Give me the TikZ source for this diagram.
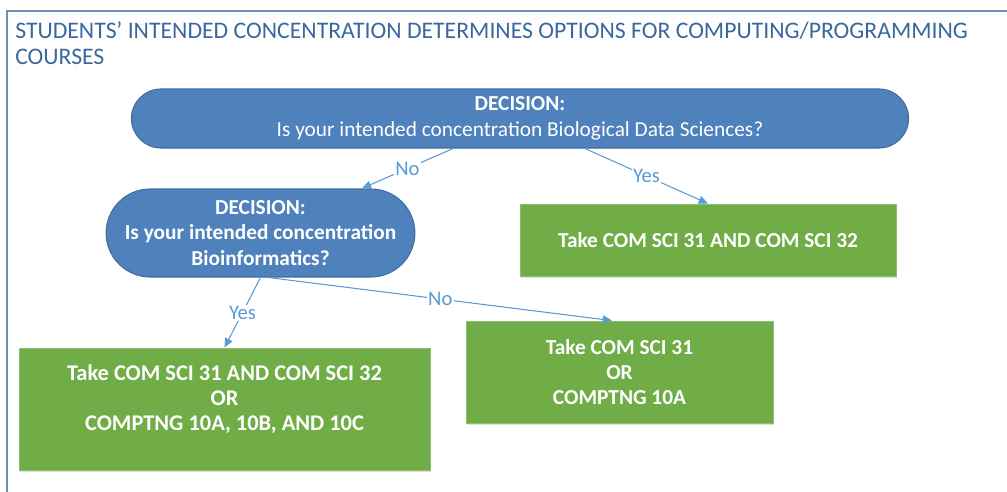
\documentclass[tikz,border=0pt]{standalone}
\usepackage{fontspec}
\setmainfont{Carlito}
\usetikzlibrary{arrows.meta,shapes.misc,shadows}

\definecolor{decfill}{RGB}{79,129,189}
\definecolor{decline}{RGB}{65,110,160}
\definecolor{resfill}{RGB}{112,173,71}
\definecolor{resline}{RGB}{140,190,110}
\definecolor{flowcol}{RGB}{91,155,213}
\definecolor{titlecol}{RGB}{57,104,158}
\definecolor{framecol}{RGB}{110,140,180}

\begin{document}
\begin{tikzpicture}[x=0.75pt,y=-0.75pt]

\tikzset{
    decision/.style={rounded rectangle,fill=decfill,draw=decline,line width=0.8pt,
        text=white,align=center,font=\fontsize{16}{19.5}\selectfont},
    result/.style={rectangle,fill=resfill,draw=resline,line width=0.6pt,text=white,
        align=center,font=\bfseries\fontsize{16}{18.5}\selectfont,
        drop shadow={shadow xshift=0.6pt,shadow yshift=-1.2pt,opacity=0.25}},
    restext/.style={text=white,align=center,inner sep=0pt,
        font=\bfseries\fontsize{16.8}{18.5}\selectfont},
    flow/.style={draw=flowcol,line width=0.8pt,-{Triangle[length=7pt,width=6pt]}},
    answer/.style={fill=white,text=flowcol,inner sep=1pt,font=\fontsize{15.5}{18}\selectfont}}

\useasboundingbox (0,0) rectangle (1007,492);

% frame and title
\draw[framecol,line width=0.8pt] (1007,11) -- (7,11) -- (7,492);
\node[anchor=north west,text=titlecol,align=left,inner sep=0pt,
    font=\fontsize{17.8}{19.5}\selectfont] (title) at (15,21)
    {STUDENTS’ INTENDED CONCENTRATION DETERMINES OPTIONS FOR COMPUTING/PROGRAMMING\\COURSES};

% decisions
\node[decision, minimum width=589.5pt, minimum height=44.25pt] (bds) at (520,118.5)
    {\textbf{DECISION:}\\Is your intended concentration Biological Data Sciences?};
\node[decision, font=\bfseries\fontsize{16}{19}\selectfont,
    minimum width=218.25pt, minimum height=66pt] (bioinf) at (260.5,233)
    {DECISION:\\Is your intended concentration\\Bioinformatics?};

% results
\node[result, minimum width=282pt, minimum height=54pt] (bdsyes) at (708,240)
    {Take COM SCI 31 AND COM SCI 32};
\node[result, minimum width=308.25pt, minimum height=91.5pt] (bioyes) at (224.5,409) {};
\node[restext] (bioyestext) at (224.5,399)
    {Take COM SCI 31 AND COM SCI 32\\OR\\COMPTNG 10A, 10B, AND 10C};
\node[result, minimum width=230.25pt, minimum height=76.5pt] (biono) at (619.5,372)
    {Take COM SCI 31\\OR\\COMPTNG 10A};

% connectors
\draw[flow] ([xshift=-50.25pt]bds.south) -- node[answer] {No} ([xshift=76pt]bioinf.north);
\draw[flow] ([xshift=48.75pt]bds.south) -- node[answer] {Yes} (bdsyes.north);
\draw[flow] (bioinf.south) -- node[answer] {Yes} (bioyes.north);
\draw[flow] ([xshift=6pt]bioinf.south) -- node[answer] {No} ([xshift=-5.6pt]biono.north);

\end{tikzpicture}
\end{document}
